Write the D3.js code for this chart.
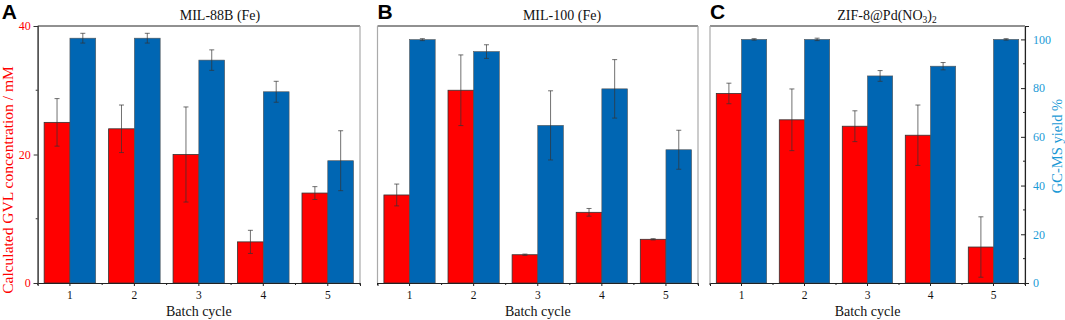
<!DOCTYPE html>
<html>
<head>
<meta charset="utf-8">
<script src="https://cdn.jsdelivr.net/npm/d3@7"></script>
<style>
    body { margin: 0; background: #fff; }
    svg text { font-family: "Liberation Serif", "Times New Roman", serif; }
    .letter { font-family: "Liberation Sans", Arial, sans-serif !important; font-weight: bold; font-size: 21px; }
</style>
</head>
<body>
<script>
// batch cycles
var categories = ["1", "2", "3", "4", "5"];
var panelLetters = ["A", "B", "C"];
var panelTitles = ["MIL-88B (Fe)", "MIL-100 (Fe)", "ZIF-8@Pd(NO3)2"];

// calculated GVL concentration / mM (red, left axis)
var gvlA = [25.0, 24.0, 20.0, 6.4, 14.0];
var gvlErrA = [3.7, 3.7, 7.4, 1.8, 1.0];
var gvlB = [13.7, 30.0, 4.4, 11.0, 6.8];
var gvlErrB = [1.7, 5.5, 0.1, 0.6, 0.1];
var gvlC = [29.5, 25.4, 24.4, 23.0, 5.6];
var gvlErrC = [1.6, 4.8, 2.4, 4.7, 4.7];

// GC-MS yield % (blue, right axis)
var yieldA = [100.5, 100.5, 91.5, 78.5, 50.2];
var yieldErrA = [2.0, 2.0, 4.2, 4.3, 12.3];
var yieldB = [99.9, 95.0, 64.7, 79.7, 54.7];
var yieldErrB = [0.4, 2.8, 14.2, 12.0, 8.0];
var yieldC = [100.0, 100.0, 85.0, 89.0, 100.0];
var yieldErrC = [0.3, 0.5, 2.2, 1.5, 0.3];

var leftTicks = [0, 20, 40];
var rightTicks = [0, 20, 40, 60, 80, 100];

var W = 1065, H = 320;
var top0 = 26, bottom0 = 283;
var red = "#ff0000", blue = "#0066b3", cyan = "#1b9ad6";

var panels = [
    { x0: 37.7, x1: 360, gvl: gvlA, gvlErr: gvlErrA, yld: yieldA, yldErr: yieldErrA, titleX: 220 },
    { x0: 377.5, x1: 698, gvl: gvlB, gvlErr: gvlErrB, yld: yieldB, yldErr: yieldErrB, titleX: 562 },
    { x0: 710, x1: 1025, gvl: gvlC, gvlErr: gvlErrC, yld: yieldC, yldErr: yieldErrC, titleX: 887 }
];

var svg = d3.select("body").append("svg")
    .attr("width", W)
    .attr("height", H);

var scaleL = d3.scaleLinear().domain([0, 40]).range([bottom0, top0]);
var scaleR = d3.scaleLinear().domain([0, 105.5]).range([bottom0, top0]);

panels.forEach((p, pi) => {
    var g = svg.append("g").attr("class", "panel" + pi);

    var scaleX = d3.scaleBand()
        .domain(categories)
        .range([p.x0, p.x1])
        .paddingInner(0.2)
        .paddingOuter(0.1);
    var scaleSub = d3.scaleBand()
        .domain(["gvl", "yld"])
        .range([0, scaleX.bandwidth()]);

    // frame: black top, grey sides
    g.append("line")
        .attr("x1", p.x0).attr("x2", p.x1)
        .attr("y1", top0).attr("y2", top0)
        .attr("stroke", "#222").attr("stroke-width", 1);
    g.append("line")
        .attr("x1", p.x0).attr("x2", p.x0)
        .attr("y1", top0).attr("y2", bottom0)
        .attr("stroke", "#aaa").attr("stroke-width", 1.2);
    g.append("line")
        .attr("x1", p.x1).attr("x2", p.x1)
        .attr("y1", top0).attr("y2", bottom0)
        .attr("stroke", "#aaa").attr("stroke-width", 1.2);

    var rows = categories.map((c, i) => ({
        cat: c, gvl: p.gvl[i], gvlErr: p.gvlErr[i], yld: p.yld[i], yldErr: p.yldErr[i]
    }));

    // red bars
    g.selectAll("rect.gvl")
        .data(rows)
        .enter()
        .append("rect")
        .attr("class", "gvl")
        .attr("x", (d) => scaleX(d.cat) + scaleSub("gvl"))
        .attr("y", (d) => scaleL(d.gvl))
        .attr("width", scaleSub.bandwidth())
        .attr("height", (d) => scaleL(0) - scaleL(d.gvl))
        .attr("fill", red)
        .attr("stroke", "#333")
        .attr("stroke-width", 0.8);

    // blue bars
    g.selectAll("rect.yld")
        .data(rows)
        .enter()
        .append("rect")
        .attr("class", "yld")
        .attr("x", (d) => scaleX(d.cat) + scaleSub("yld"))
        .attr("y", (d) => scaleR(d.yld))
        .attr("width", scaleSub.bandwidth())
        .attr("height", (d) => scaleR(0) - scaleR(d.yld))
        .attr("fill", blue)
        .attr("stroke", "#555")
        .attr("stroke-width", 0.6);

    // error bars
    var errs = [];
    rows.forEach((d) => {
        errs.push({ cx: scaleX(d.cat) + scaleSub("gvl") + scaleSub.bandwidth() / 2, hi: scaleL(d.gvl + d.gvlErr), lo: scaleL(d.gvl - d.gvlErr) });
        errs.push({ cx: scaleX(d.cat) + scaleSub("yld") + scaleSub.bandwidth() / 2, hi: scaleR(d.yld + d.yldErr), lo: scaleR(d.yld - d.yldErr) });
    });
    var eg = g.selectAll("g.err")
        .data(errs)
        .enter()
        .append("g")
        .attr("class", "err")
        .attr("stroke", "#333")
        .attr("stroke-width", 0.7);
    eg.append("line")
        .attr("x1", (d) => d.cx).attr("x2", (d) => d.cx)
        .attr("y1", (d) => d.hi).attr("y2", (d) => d.lo);
    eg.append("line")
        .attr("x1", (d) => d.cx - 2.5).attr("x2", (d) => d.cx + 2.5)
        .attr("y1", (d) => d.hi).attr("y2", (d) => d.hi);
    eg.append("line")
        .attr("x1", (d) => d.cx - 2.5).attr("x2", (d) => d.cx + 2.5)
        .attr("y1", (d) => d.lo).attr("y2", (d) => d.lo);

    // x axis
    var axX = g.append("g")
        .attr("transform", "translate(0," + bottom0 + ")")
        .call(d3.axisBottom(scaleX).tickSize(3).tickPadding(5));
    axX.select(".domain").attr("stroke", "#222");
    axX.selectAll(".tick line").attr("stroke", "#222");
    axX.selectAll(".tick text")
        .attr("fill", "#111")
        .style("font-size", "11.5px");
    // minor ticks at group boundaries
    var step = scaleX.step();
    var bounds = d3.range(categories.length + 1).map((i) => p.x0 + i * step);
    axX.selectAll("line.minor")
        .data(bounds)
        .enter()
        .append("line")
        .attr("class", "minor")
        .attr("x1", (d) => d).attr("x2", (d) => d)
        .attr("y1", 0).attr("y2", 2)
        .attr("stroke", "#222");

    axX.append("text")
        .attr("x", (p.x0 + p.x1) / 2)
        .attr("y", 32.5)
        .attr("text-anchor", "middle")
        .attr("fill", "#111")
        .style("font-size", "14px")
        .text("Batch cycle");

    // panel title
    var title = g.append("text")
        .attr("x", p.titleX)
        .attr("y", 20)
        .attr("text-anchor", "middle")
        .attr("fill", "#111")
        .style("font-size", "14px");
    if (pi === 2) {
        title.append("tspan").text("ZIF-8@Pd(NO");
        title.append("tspan").attr("dy", 3).style("font-size", "9.5px").text("3");
        title.append("tspan").attr("dy", -3).text(")");
        title.append("tspan").attr("dy", 3).style("font-size", "9.5px").text("2");
    } else {
        title.text(panelTitles[pi]);
    }

    svg.append("text")
        .attr("class", "letter")
        .attr("x", p.x0 - (pi === 0 ? 36 : 0))
        .attr("y", 19)
        .attr("fill", "#000")
        .text(panelLetters[pi]);
});

// left axis (on panel A)
var pA = panels[0];
var axL = svg.append("g")
    .attr("transform", "translate(" + pA.x0 + ",0)")
    .call(d3.axisLeft(scaleL).tickValues(leftTicks).tickSize(4).tickPadding(3));
axL.select(".domain").attr("stroke", "#333").attr("stroke-width", 1.2);
axL.selectAll(".tick line").attr("stroke", "#333");
axL.selectAll(".tick text").attr("fill", red).style("font-size", "12px");
axL.selectAll("line.minor")
    .data([10, 30])
    .enter()
    .append("line")
    .attr("class", "minor")
    .attr("x1", -2).attr("x2", 0)
    .attr("y1", (d) => scaleL(d)).attr("y2", (d) => scaleL(d))
    .attr("stroke", "#333");

svg.append("text")
    .attr("transform", "translate(13," + 180 + ") rotate(-90)")
    .attr("text-anchor", "middle")
    .attr("fill", red)
    .style("font-size", "15.5px")
    .text("Calculated GVL concentration / mM");

// right axis (on panel C)
var pC = panels[2];
var axR = svg.append("g")
    .attr("transform", "translate(" + pC.x1 + ",0)")
    .call(d3.axisRight(scaleR).tickValues(rightTicks).tickSize(4).tickPadding(4));
axR.select(".domain").attr("stroke", "#222").attr("stroke-width", 1.1);
axR.selectAll(".tick line").attr("stroke", "#222").attr("x1", -4).attr("x2", 0);
axR.selectAll(".tick text").attr("fill", cyan).style("font-size", "12px");
axR.selectAll("line.minor")
    .data([10, 30, 50, 70, 90])
    .enter()
    .append("line")
    .attr("class", "minor")
    .attr("x1", -2).attr("x2", 0)
    .attr("y1", (d) => scaleR(d)).attr("y2", (d) => scaleR(d))
    .attr("stroke", "#222");

svg.append("text")
    .attr("transform", "translate(1062," + 146 + ") rotate(-90)")
    .attr("text-anchor", "middle")
    .attr("fill", cyan)
    .style("font-size", "14.5px")
    .text("GC-MS yield %");
</script>
</body>
</html>
